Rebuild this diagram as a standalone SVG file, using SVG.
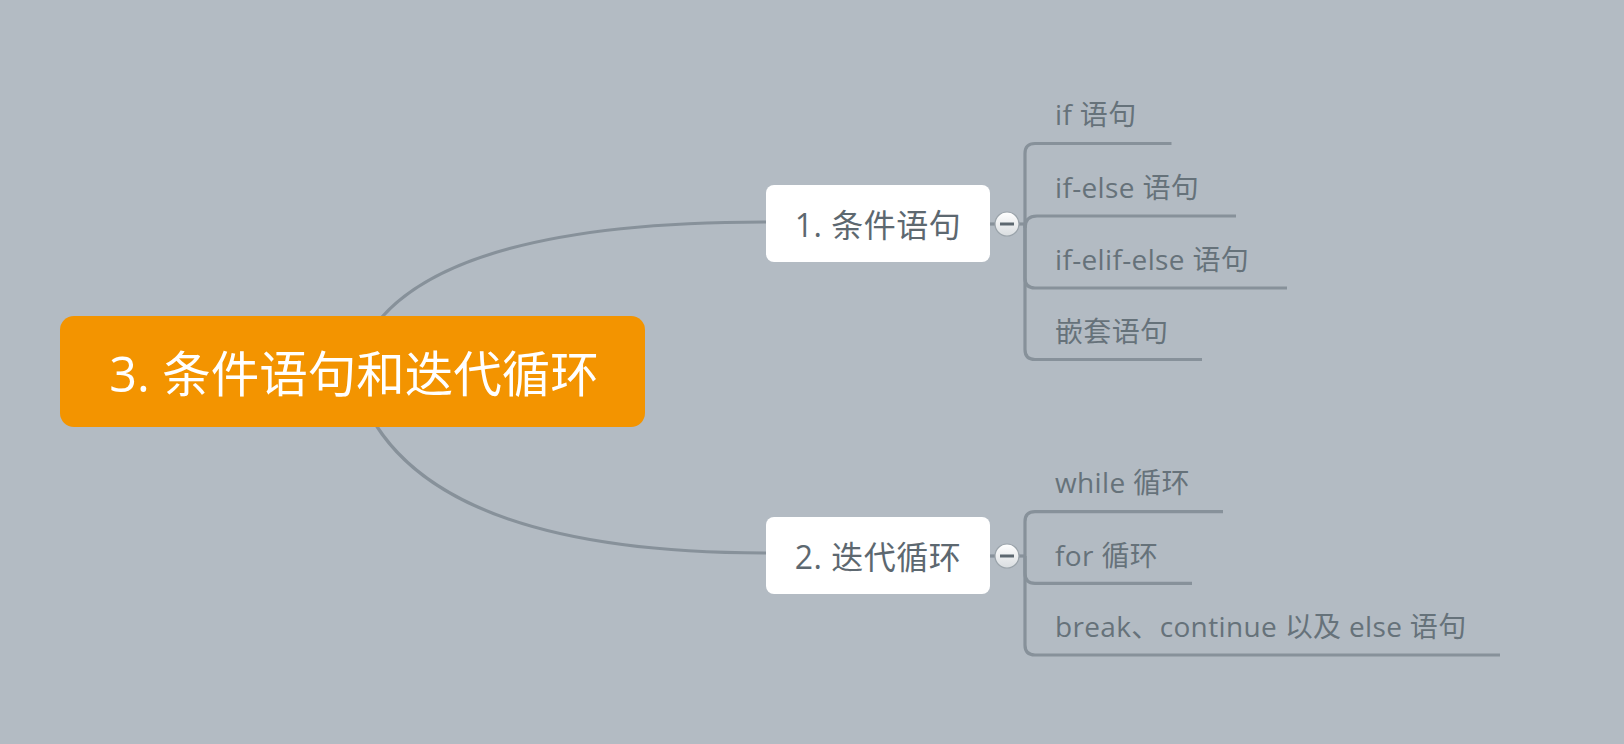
<svg xmlns="http://www.w3.org/2000/svg" width="1624" height="744" viewBox="0 0 1624 744">
  <defs>
    <linearGradient id="btnFill" x1="0" y1="0" x2="0" y2="1">
      <stop offset="0" stop-color="#ffffff"/>
      <stop offset="1" stop-color="#d9dde0"/>
    </linearGradient>
    <style>
      .conn { fill: none; stroke: #87919a; stroke-width: 3.2; stroke-linecap: butt; }
      .root-box { fill: #f39400; }
      .root-text { fill: #ffffff; font-family: "Open Sans", "Noto Sans CJK SC", sans-serif; font-size: 48.5px; text-anchor: middle; }
      .topic-box { fill: #ffffff; }
      .topic-text { fill: #5d6870; font-family: "Open Sans", "Noto Sans CJK SC", sans-serif; font-size: 32px; letter-spacing: 0.5px; text-anchor: middle; }
      .leaf-text { fill: #66727a; font-family: "Open Sans", "Noto Sans CJK SC", sans-serif; font-size: 28px; letter-spacing: 0.35px; }
      .btn { fill: url(#btnFill); stroke: #9aa3aa; stroke-width: 1.2; }
      .btn-bar { fill: #5d6870; }
    </style>
  </defs>

  <rect x="0" y="0" width="1624" height="744" fill="#b3bbc3"/>

  <g id="connectors">
    <!-- root to main topics -->
    <path class="conn" d="M353,371 Q391,222 766,222"/>
    <path class="conn" d="M353,371 Q398,553 766,553"/>
    <!-- topic to collapse button to bracket -->
    <path class="conn" d="M990,224 H995"/>
    <path class="conn" d="M1019,224 H1025"/>
    <path class="conn" d="M990,556 H995"/>
    <path class="conn" d="M1019,556 H1025"/>
    <!-- bracket of 1. 条件语句 -->
    <path class="conn" d="M1025,224 V153.5 Q1025,143.5 1035,143.5 H1171.5"/>
    <path class="conn" d="M1025,228 Q1025,216 1037,216 H1236"/>
    <path class="conn" d="M1025,224 V278 Q1025,288 1035,288 H1287"/>
    <path class="conn" d="M1025,224 V349.5 Q1025,359.5 1035,359.5 H1202"/>
    <!-- bracket of 2. 迭代循环 -->
    <path class="conn" d="M1025,556 V521.7 Q1025,511.7 1035,511.7 H1223"/>
    <path class="conn" d="M1025,556 V573.3 Q1025,583.3 1035,583.3 H1192"/>
    <path class="conn" d="M1025,556 V645 Q1025,655 1035,655 H1500"/>
  </g>

  <g id="root">
    <rect class="root-box" x="60" y="316" width="585" height="111" rx="14"/>
    <text class="root-text" x="354" y="392">3. 条件语句和迭代循环</text>
  </g>

  <g id="topic-conditions">
    <rect class="topic-box" x="766" y="185" width="224" height="77" rx="8"/>
    <text class="topic-text" x="878" y="237">1. 条件语句</text>
  </g>
  <g id="toggle-conditions">
    <circle class="btn" cx="1007" cy="224" r="12"/>
    <rect class="btn-bar" x="1000" y="222.5" width="14" height="3"/>
  </g>

  <g id="topic-loops">
    <rect class="topic-box" x="766" y="517" width="224" height="77" rx="8"/>
    <text class="topic-text" x="878" y="569">2. 迭代循环</text>
  </g>
  <g id="toggle-loops">
    <circle class="btn" cx="1007" cy="556" r="12"/>
    <rect class="btn-bar" x="1000" y="554.5" width="14" height="3"/>
  </g>

  <g id="leaf-if"><text class="leaf-text" x="1055" y="125">if 语句</text></g>
  <g id="leaf-if-else"><text class="leaf-text" x="1055" y="198">if-else 语句</text></g>
  <g id="leaf-if-elif-else"><text class="leaf-text" x="1055" y="270">if-elif-else 语句</text></g>
  <g id="leaf-nested"><text class="leaf-text" x="1055" y="342">嵌套语句</text></g>

  <g id="leaf-while"><text class="leaf-text" x="1055" y="493">while 循环</text></g>
  <g id="leaf-for"><text class="leaf-text" x="1055" y="566">for 循环</text></g>
  <g id="leaf-break"><text class="leaf-text" x="1055" y="637">break、continue 以及 else 语句</text></g>
</svg>
